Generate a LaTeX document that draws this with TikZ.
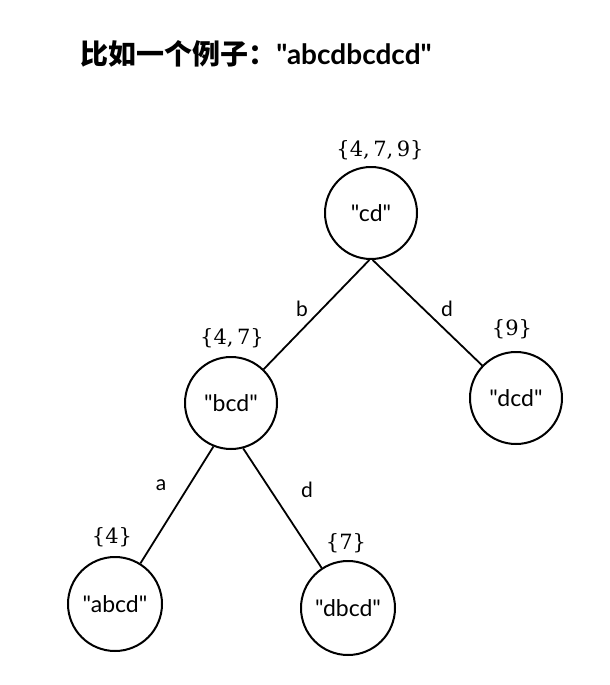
\documentclass[tikz,border=0pt]{standalone}
\usepackage{fontspec}
\setmainfont{Lato}[Ligatures=TeXOff]
\newfontfamily\cjk{Noto Sans CJK SC}
\newfontfamily\setfont{DejaVu Serif}
\begin{document}
\begin{tikzpicture}[x=1pt,y=-1pt,
  tnode/.style={draw,circle,line width=2pt,minimum size=92pt,inner sep=0pt,font=\fontsize{23}{23}\selectfont},
  setlbl/.style={font=\setfont\fontsize{21}{21}\selectfont},
  elbl/.style={font=\fontsize{21}{21}\selectfont},
  edge/.style={line width=1.8pt}]
\useasboundingbox (0,0) rectangle (610,685);
\node[font=\fontsize{28}{28}\selectfont\bfseries] (title) at (256,54) {{\cjk 比如一个例子：}"abcdbcdcd"};
\node[tnode] (cd) at (371,213) {"cd"};
\node[tnode] (bcd) at (231,403) {"bcd"};
\node[tnode] (dcd) at (516,398) {"dcd"};
\node[tnode,minimum size=94pt] (abcd) at (115,604) {"abcd"};
\node[tnode,minimum size=94pt] (dbcd) at (348,608) {"dbcd"};
\node[setlbl] (s1) at (380,150) {\{4,\,7,\,9\}};
\node[setlbl] (s2) at (232,338) {\{4,\,7\}};
\node[setlbl] (s3) at (512,329) {\{9\}};
\node[setlbl] (s4) at (112,537) {\{4\}};
\node[setlbl] (s5) at (346,543) {\{7\}};
\draw[edge] (cd.-92) -- (bcd);
\draw[edge] (cd.-88) -- (dcd);
\draw[edge] (bcd.-112) -- (abcd);
\draw[edge] (bcd.-75) -- (dbcd);
\node[elbl] (lb) at (302,309) {b};
\node[elbl] (ld1) at (447,309) {d};
\node[elbl] (la) at (161,485) {a};
\node[elbl] (ld2) at (307,490) {d};
\end{tikzpicture}
\end{document}
